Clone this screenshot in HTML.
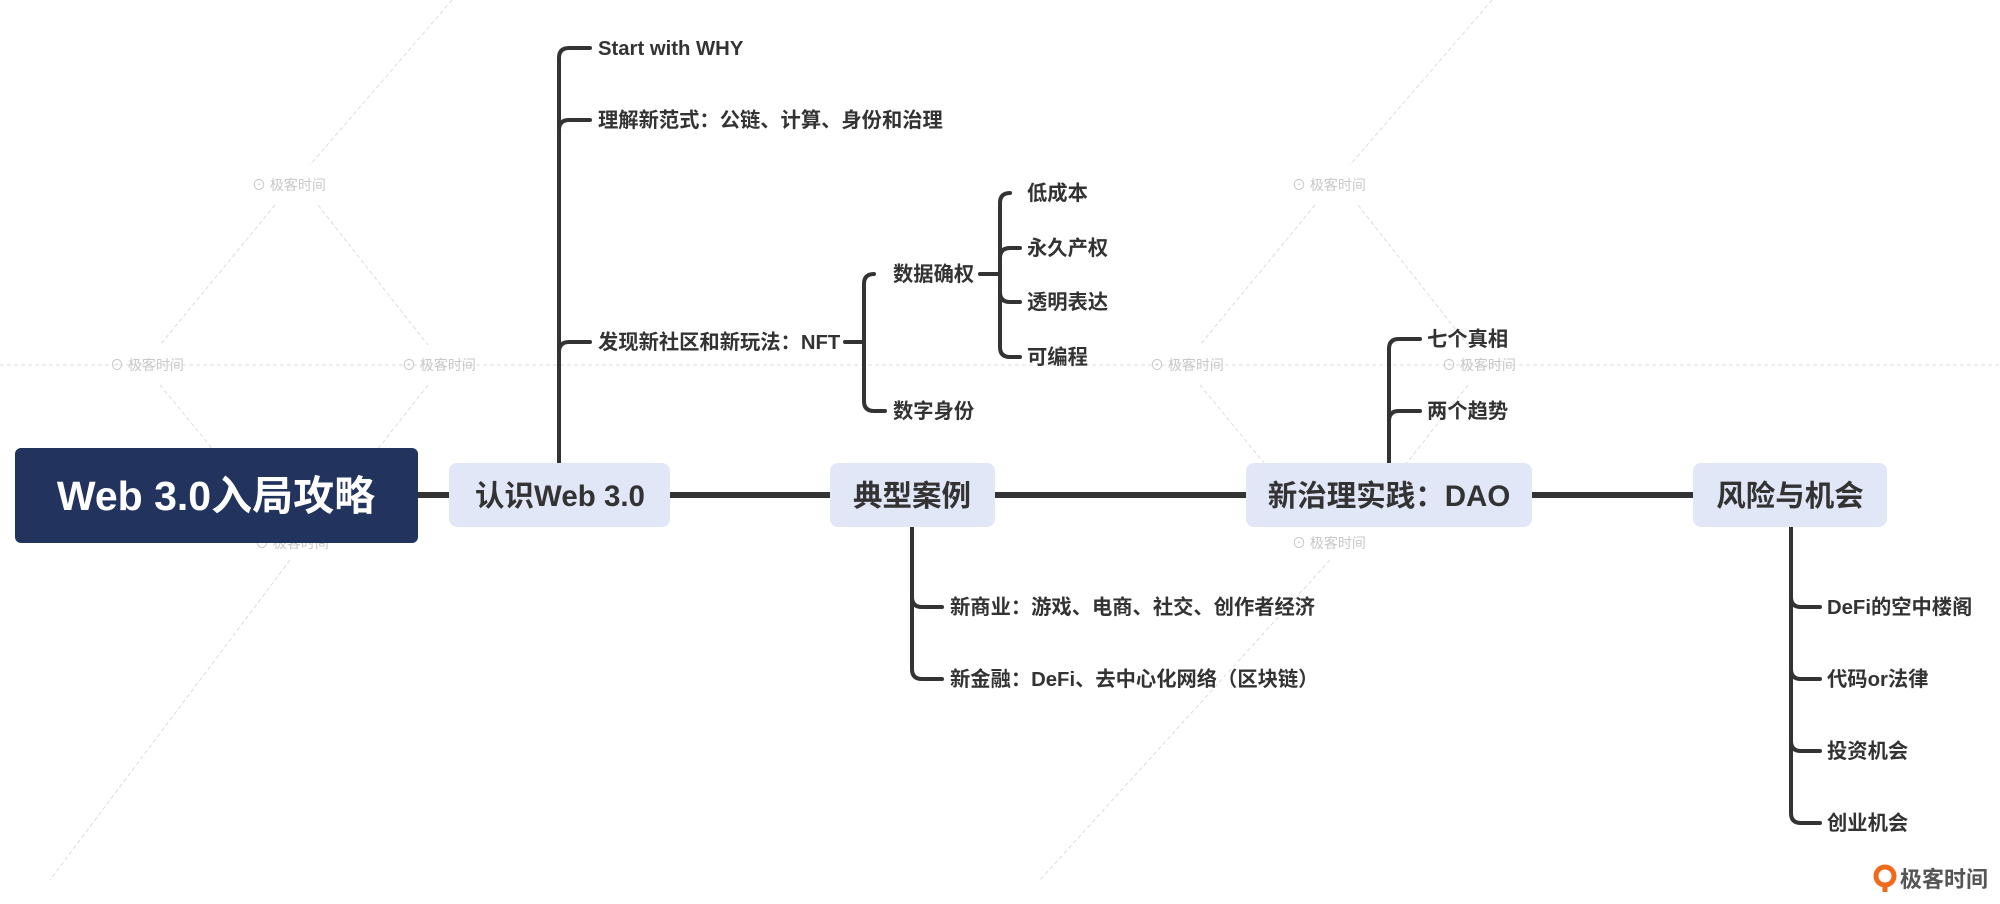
<!DOCTYPE html>
<html><head><meta charset="utf-8"><style>
html,body{margin:0;padding:0;background:#fff;}
svg{display:block;}
text{font-family:"Liberation Sans","Noto Sans CJK SC",sans-serif;}
.c{font-size:20.3px;font-weight:bold;fill:#333;}
.w{font-size:14px;fill:#c8c8c8;}
</style></head><body>
<svg width="2000" height="904" viewBox="0 0 2000 904" xmlns="http://www.w3.org/2000/svg">
<g stroke="#dcdcdc" stroke-width="1" stroke-dasharray="4,3" fill="none">
<line x1="0" y1="365" x2="2000" y2="365"/>
<line x1="452" y1="0" x2="310" y2="165"/>
<line x1="275" y1="205" x2="160" y2="345"/>
<line x1="318" y1="205" x2="428" y2="345"/>
<line x1="160" y1="385" x2="275" y2="525"/>
<line x1="428" y1="385" x2="318" y2="525"/>
<line x1="290" y1="560" x2="50" y2="880"/>
<line x1="1492" y1="0" x2="1350" y2="165"/>
<line x1="1315" y1="205" x2="1200" y2="345"/>
<line x1="1358" y1="205" x2="1468" y2="345"/>
<line x1="1200" y1="385" x2="1315" y2="525"/>
<line x1="1468" y1="385" x2="1358" y2="525"/>
<line x1="1330" y1="560" x2="1040" y2="880"/>
</g>
<g>
<text class="w" x="252" y="190">⊙ 极客时间</text>
<text class="w" x="110" y="370">⊙ 极客时间</text>
<text class="w" x="402" y="370">⊙ 极客时间</text>
<text class="w" x="255" y="548">⊙ 极客时间</text>
<text class="w" x="1292" y="190">⊙ 极客时间</text>
<text class="w" x="1150" y="370">⊙ 极客时间</text>
<text class="w" x="1442" y="370">⊙ 极客时间</text>
<text class="w" x="1292" y="548">⊙ 极客时间</text>
</g>
<g stroke="#333" fill="none" stroke-linecap="round">
<line x1="418" y1="495" x2="1693" y2="495" stroke-width="6"/>
<g stroke-width="4">
<path d="M559,463 V58 Q559,48 569,48 H590"/>
<path d="M559,130 Q559,120 569,120 H590"/>
<path d="M559,352 Q559,342 569,342 H590"/>
<path d="M845,342 H864"/>
<path d="M874,274 Q864,274 864,284 V401 Q864,411 874,411 H885"/>
<path d="M980,274 H1000"/>
<path d="M1010,193 Q1000,193 1000,203 V347 Q1000,357 1010,357 H1020"/>
<path d="M1000,258 Q1000,248 1010,248 H1020"/>
<path d="M1000,292 Q1000,302 1010,302 H1020"/>
<path d="M912,527 V669 Q912,679 922,679 H942"/>
<path d="M912,597 Q912,607 922,607 H942"/>
<path d="M1389,463 V349 Q1389,339 1399,339 H1420"/>
<path d="M1389,421 Q1389,411 1399,411 H1420"/>
<path d="M1791,527 V813 Q1791,823 1801,823 H1820"/>
<path d="M1791,597 Q1791,607 1801,607 H1820"/>
<path d="M1791,669 Q1791,679 1801,679 H1820"/>
<path d="M1791,741 Q1791,751 1801,751 H1820"/>
</g>
</g>
<rect x="15" y="448" width="403" height="95" rx="6" fill="#22335e"/>
<text x="216" y="510" text-anchor="middle" font-size="41" font-weight="bold" fill="#fff">Web 3.0入局攻略</text>
<g fill="#e2e7f7">
<rect x="449" y="463" width="221" height="64" rx="8"/>
<rect x="830" y="463" width="165" height="64" rx="8"/>
<rect x="1246" y="463" width="286" height="64" rx="8"/>
<rect x="1693" y="463" width="194" height="64" rx="8"/>
</g>
<g font-size="29.5" font-weight="bold" fill="#333" text-anchor="middle">
<text x="560" y="506">认识Web 3.0</text>
<text x="912" y="506">典型案例</text>
<text x="1389" y="506">新治理实践：DAO</text>
<text x="1790" y="506">风险与机会</text>
</g>
<g>
<text class="c" x="598" y="55">Start with WHY</text>
<text class="c" x="598" y="127">理解新范式：公链、计算、身份和治理</text>
<text class="c" x="598" y="349">发现新社区和新玩法：NFT</text>
<text class="c" x="893" y="281">数据确权</text>
<text class="c" x="893" y="418">数字身份</text>
<text class="c" x="1027" y="200">低成本</text>
<text class="c" x="1027" y="255">永久产权</text>
<text class="c" x="1027" y="309">透明表达</text>
<text class="c" x="1027" y="364">可编程</text>
<text class="c" x="950" y="614">新商业：游戏、电商、社交、创作者经济</text>
<text class="c" x="950" y="686">新金融：DeFi、去中心化网络（区块链）</text>
<text class="c" x="1427" y="346">七个真相</text>
<text class="c" x="1427" y="418">两个趋势</text>
<text class="c" x="1827" y="614">DeFi的空中楼阁</text>
<text class="c" x="1827" y="686">代码or法律</text>
<text class="c" x="1827" y="758">投资机会</text>
<text class="c" x="1827" y="830">创业机会</text>
</g>
<circle cx="1885" cy="876" r="9" fill="none" stroke="#f06a1e" stroke-width="5"/>
<path d="M1885,884 L1885,892" stroke="#f06a1e" stroke-width="5"/>
<text x="1900" y="887" font-size="22" font-weight="bold" fill="#555">极客时间</text>
</svg>
</body></html>
